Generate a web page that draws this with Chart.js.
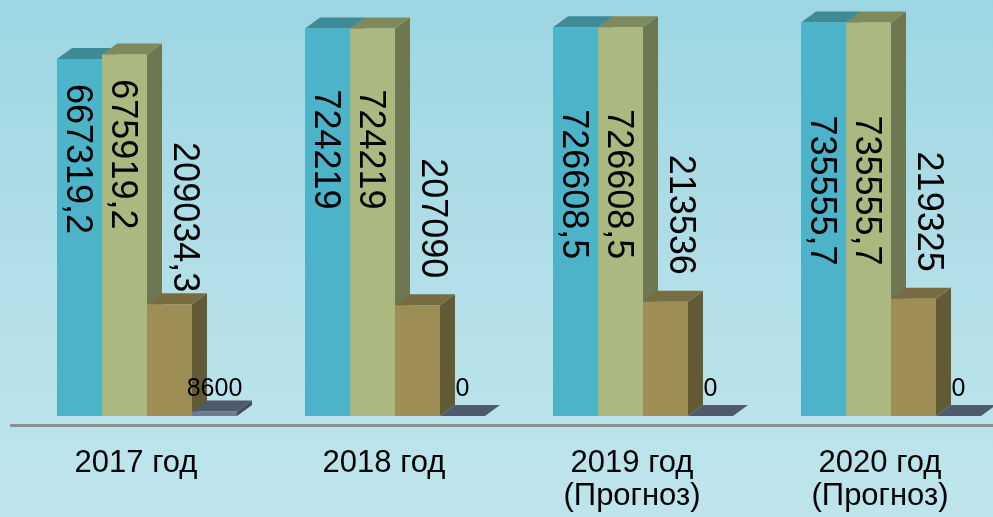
<!DOCTYPE html>
<html><head><meta charset="utf-8">
<script src="https://cdn.jsdelivr.net/npm/chart.js@4"></script>
<style>
html,body{margin:0;padding:0;overflow:hidden;width:993px;height:517px;}
body{background:linear-gradient(to bottom,#9cd6e2 0%,#b3dfe8 55%,#bfe5ec 100%);}
#wrap{position:absolute;left:0;top:0;width:1004px;height:517px;}
</style></head><body>
<div id="wrap"><canvas id="c" width="1004" height="517"></canvas></div>
<script>
// ---- data ----
const categories = [['2017 год'], ['2018 год'], ['2019 год', '(Прогноз)'], ['2020 год', '(Прогноз)']];
const series1 = [667319.2, 724219, 726608.5, 735555.7];
const series2 = [675919.2, 724219, 726608.5, 735555.7];
const series3 = [209034.3, 207090, 213536, 219325];
const series4 = [8600, 0, 0, 0];

// ---- styles ----
const frontColors = ['#4cb3c9', '#abb981', '#9c8e55', '#6b7b90'];
const topColors   = ['#3e8b97', '#7f8a5c', '#786c42', '#4e5a69'];
const sideColors  = ['#3a7f8b', '#6d7752', '#635b36', '#434d5a'];
const depthX = 15, depthY = 11, barShift = 11;
const insideLabelDrop = [100, 121, 157, 168];
const FONT = "'Liberation Sans', Arial, sans-serif";

function fmt(v){ return String(v).replace('.', ','); }
function poly(ctx, pts){ ctx.beginPath(); ctx.moveTo(pts[0][0], pts[0][1]); for (let k=1;k<pts.length;k++) ctx.lineTo(pts[k][0], pts[k][1]); ctx.closePath(); ctx.fill(); }

const bar3d = {
  id: 'bar3d',
  beforeDatasetsDraw(chart){
    const ctx = chart.ctx;
    ctx.save();
    ctx.translate(barShift, 0);
    chart.data.datasets.forEach((ds, i) => {
      chart.getDatasetMeta(i).data.forEach(el => {
        const {x, y, base, width} = el.getProps(['x','y','base','width'], true);
        const l = x - width/2, r = x + width/2;
        ctx.fillStyle = sideColors[i];
        poly(ctx, [[r,y],[r+depthX,y-depthY],[r+depthX,base-depthY],[r,base]]);
        ctx.fillStyle = topColors[i];
        poly(ctx, [[l,y],[r,y],[r+depthX,y-depthY],[l+depthX,y-depthY]]);
      });
    });
  },
  afterDatasetsDraw(chart){
    const ctx = chart.ctx;
    ctx.fillStyle = '#000';
    chart.data.datasets.forEach((ds, i) => {
      chart.getDatasetMeta(i).data.forEach((el, j) => {
        const {x, y, base} = el.getProps(['x','y','base'], true);
        const txt = fmt(ds.data[j]);
        if (i < 3) {
          ctx.font = '36px ' + FONT;
          ctx.textAlign = 'center';
          ctx.textBaseline = 'alphabetic';
          const cx = i < 2 ? x - 13 : x + 4;
          const cy = i < 2 ? y + insideLabelDrop[j] : y - 87;
          ctx.save();
          ctx.translate(cx, cy);
          ctx.rotate(Math.PI/2);
          ctx.fillText(txt, 0, 0);
          ctx.restore();
        } else {
          ctx.font = '25px ' + FONT;
          ctx.textAlign = 'center';
          ctx.textBaseline = 'alphabetic';
          ctx.fillText(txt, x, base - 20);
        }
      });
    });
    ctx.restore();
  },
  afterDraw(chart){
    const ctx = chart.ctx, a = chart.chartArea;
    ctx.save();
    ctx.strokeStyle = '#8e8e8e';
    ctx.lineWidth = 3;
    ctx.beginPath();
    ctx.moveTo(10, a.bottom + 9.5);
    ctx.lineTo(chart.width, a.bottom + 9.5);
    ctx.stroke();
    ctx.restore();
  }
};

new Chart(document.getElementById('c'), {
  type: 'bar',
  data: {
    labels: categories,
    datasets: [
      {label: 'Ряд 1', data: series1, backgroundColor: frontColors[0]},
      {label: 'Ряд 2', data: series2, backgroundColor: frontColors[1]},
      {label: 'Ряд 3', data: series3, backgroundColor: frontColors[2]},
      {label: 'Ряд 4', data: series4, backgroundColor: frontColors[3]}
    ]
  },
  options: {
    responsive: false,
    animation: false,
    layout: {padding: {left: 12, right: 0, top: 0, bottom: 0}},
    plugins: {legend: {display: false}, tooltip: {enabled: false}},
    datasets: {bar: {categoryPercentage: 180/248, barPercentage: 1, borderWidth: 0, clip: false}},
    scales: {
      x: {
        grid: {display: false, drawTicks: false},
        border: {display: false},
        ticks: {color: '#000', font: {family: FONT, size: 31, lineHeight: 1.065}, padding: 31, maxRotation: 0, autoSkip: false},
        afterFit(s){ s.height = 101; }
      },
      y: {display: false, min: 0, max: 777570}
    }
  },
  plugins: [bar3d]
});
</script>
</body></html>
